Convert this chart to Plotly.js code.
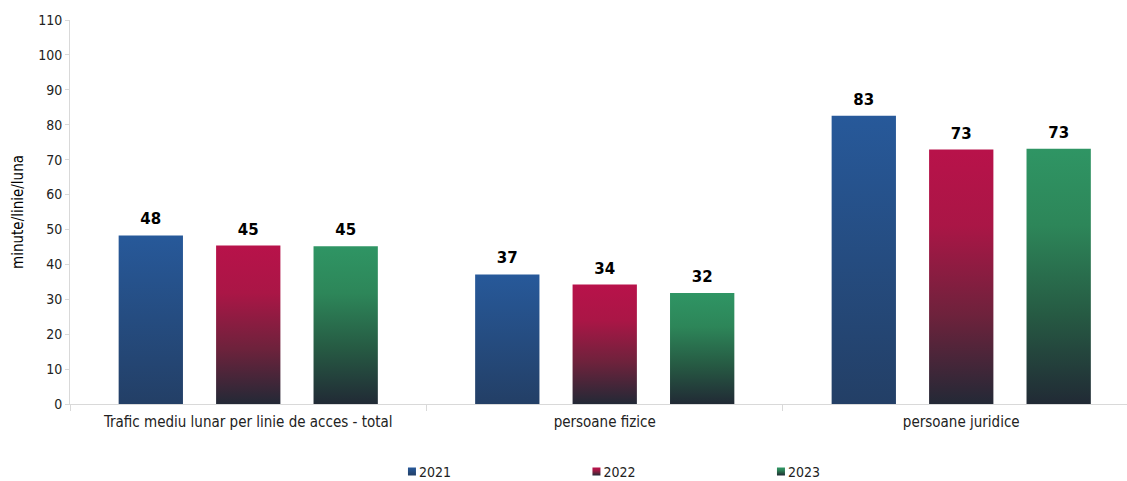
<!DOCTYPE html>
<html>
<head>
<meta charset="utf-8">
<script src="https://cdn.plot.ly/plotly-3.0.1.min.js"></script>
<style>html,body{margin:0;padding:0;background:#fff;}#chart{width:1127px;height:481px;}</style>
</head>
<body>
<div id="chart"></div>
<script>
const categories = ["Trafic mediu lunar per linie de acces - total", "persoane fizice", "persoane juridice"];
const years = ["2021", "2022", "2023"];
const values2021 = [48.3, 37.1, 82.6];
const values2022 = [45.4, 34.2, 72.9];
const values2023 = [45.2, 31.8, 73.1];
const yTickVals = [0, 10, 20, 30, 40, 50, 60, 70, 80, 90, 100, 110];

const series = [values2021, values2022, values2023];
const baseColors = ["#254C84", "#8E1F42", "#2A7350"];
const gradients = [
  [[0, "#27599A"], [1, "#233F66"]],
  [[0, "#B8124A"], [0.3, "#AA1646"], [0.65, "#6E223C"], [1, "#232936"]],
  [[0, "#2F9564"], [0.3, "#2D8659"], [0.65, "#265A43"], [1, "#212A35"]]
];

const font = '"DejaVu Sans Condensed", "DejaVu Sans", sans-serif';

const traces = series.map((vals, i) => ({
  type: "bar",
  name: years[i],
  x: categories,
  y: vals,
  marker: {color: baseColors[i], line: {width: 0}},
  texttemplate: "%{y:.0f}",
  textposition: "outside",
  textfont: {family: '"DejaVu Sans", Verdana, sans-serif', size: 15, color: "#000", weight: "bold"},
  cliponaxis: false,
  hoverinfo: "none"
}));

const layout = {
  width: 1127,
  height: 481,
  margin: {l: 70, r: 0, t: 20, b: 77},
  paper_bgcolor: "#fff",
  plot_bgcolor: "#fff",
  barmode: "group",
  bargap: 0.18,
  bargroupgap: 0.34,
  showlegend: true,
  font: {family: font, size: 14, color: "#222"},
  xaxis: {
    range: [-0.5, 2.465],
    showline: true,
    linecolor: "#d9d9d9",
    linewidth: 1,
    ticks: "outside",
    tickson: "boundaries",
    ticklen: 6,
    tickcolor: "#d9d9d9",
    ticklabelstandoff: 4,
    tickfont: {family: font, size: 15, color: "#222"},
    showgrid: false,
    zeroline: false
  },
  yaxis: {
    range: [0, 110],
    tickvals: yTickVals,
    showline: true,
    linecolor: "#d9d9d9",
    linewidth: 1,
    ticks: "outside",
    ticklen: 4,
    tickcolor: "#d9d9d9",
    tickfont: {family: font, size: 14, color: "#222"},
    showgrid: false,
    zeroline: false,
    title: {text: "minute/linie/luna", font: {family: font, size: 15, color: "#000"}, standoff: 10}
  },
  legend: {
    orientation: "h",
    x: 0.2923,
    xanchor: "left",
    yref: "container",
    y: 0.019,
    yanchor: "middle",
    font: {family: font, size: 14, color: "#222"},
    entrywidth: 139.5,
    entrywidthmode: "pixels",
    traceorder: "normal"
  }
};

function applyGradients(gd) {
  const svg = gd.querySelector("svg.main-svg");
  let defs = svg.querySelector("defs");
  const ns = "http://www.w3.org/2000/svg";
  gradients.forEach((stops, i) => {
    const id = "barGrad" + i;
    if (svg.querySelector("#" + id)) return;
    const lg = document.createElementNS(ns, "linearGradient");
    lg.setAttribute("id", id);
    lg.setAttribute("x1", "0"); lg.setAttribute("y1", "0");
    lg.setAttribute("x2", "0"); lg.setAttribute("y2", "1");
    stops.forEach(([o, c]) => {
      const s = document.createElementNS(ns, "stop");
      s.setAttribute("offset", o);
      s.setAttribute("stop-color", c);
      lg.appendChild(s);
    });
    defs.appendChild(lg);
  });
  gd.querySelectorAll(".barlayer .trace").forEach((tr, i) => {
    tr.querySelectorAll(".point path").forEach(p => { p.style.fill = "url(#barGrad" + i + ")"; });
    tr.querySelectorAll("text.bartext").forEach(t => {
      const tf = t.getAttribute("transform") || "";
      t.setAttribute("transform", "translate(0,-4) " + tf);
    });
  });
  gd.querySelectorAll(".legend .traces").forEach((tr, i) => {
    tr.querySelectorAll(".legendpoints path").forEach(p => {
      p.style.fill = "url(#barGrad" + i + ")";
      p.setAttribute("d", "M17,4H9V-4H17Z");
    });
  });
}

Plotly.newPlot("chart", traces, layout, {staticPlot: true}).then(gd => applyGradients(gd));
</script>
</body>
</html>
